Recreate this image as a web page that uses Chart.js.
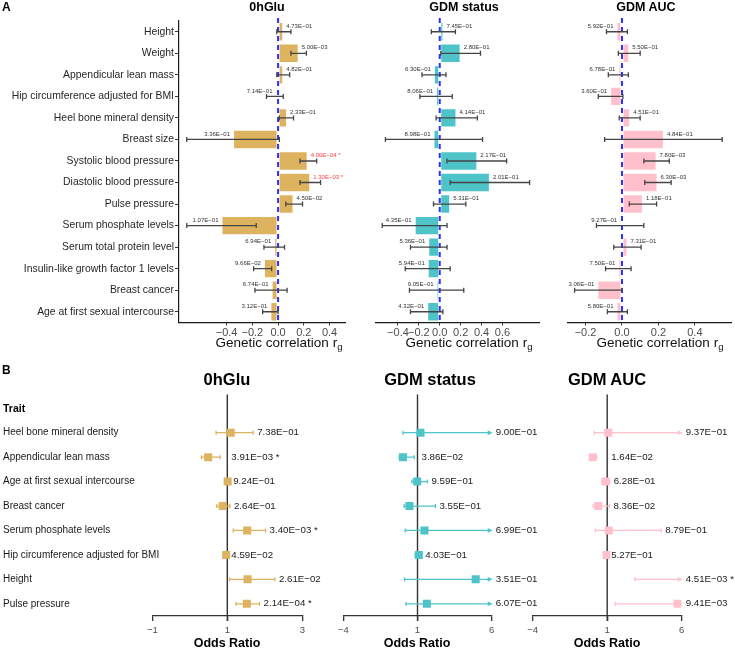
<!DOCTYPE html>
<html lang="en">
<head>
  <meta charset="UTF-8" />
  <title>Genetic correlation and Mendelian randomization</title>
  <script src="https://cdn.jsdelivr.net/npm/chart.js"></script>
  <style>
    body {
      margin: 0;
      background: #fff;
      font-family: 'Liberation Sans', Arial, sans-serif;
      color: #000;
    }
    #fig {
      position: relative;
      width: 735px;
      height: 649px;
      overflow: hidden;
    }
    canvas {
      position: absolute;
      left: 0;
    }
    .lab {
      position: absolute;
      transform: translateY(-50%);
      line-height: 1;
      font-weight: bold;
      white-space: nowrap;
    }
    .ctr {
      position: absolute;
      transform: translate(-50%, -50%);
      line-height: 1;
      white-space: nowrap;
    }
    .ttl { font-weight: bold; }
    .axt { font-size: 13.5px; color: #111; }
    .axt sub { font-size: 9.5px; vertical-align: -3px; }
  </style>
</head>
<body>
  <div id="fig">
    <canvas id="gA1" width="735" height="360" style="top:0"></canvas>
    <canvas id="gA2" width="735" height="360" style="top:0"></canvas>
    <canvas id="gA3" width="735" height="360" style="top:0"></canvas>
    <canvas id="gB1" width="735" height="289" style="top:360px"></canvas>
    <canvas id="gB2" width="735" height="289" style="top:360px"></canvas>
    <canvas id="gB3" width="735" height="289" style="top:360px"></canvas>

    <div class="lab" style="left:2px;top:7px;font-size:12px">A</div>
    <div class="ctr ttl" style="left:267px;top:7px;font-size:12.5px">0hGlu</div>
    <div class="ctr ttl" style="left:464px;top:7px;font-size:12.5px">GDM status</div>
    <div class="ctr ttl" style="left:646px;top:7px;font-size:12.5px">GDM AUC</div>
    <div class="ctr axt" style="left:279px;top:344px">Genetic correlation r<sub>g</sub></div>
    <div class="ctr axt" style="left:469px;top:344px">Genetic correlation r<sub>g</sub></div>
    <div class="ctr axt" style="left:660px;top:344px">Genetic correlation r<sub>g</sub></div>

    <div class="lab" style="left:2px;top:370px;font-size:12px">B</div>
    <div class="ctr ttl" style="left:227px;top:379px;font-size:16.5px">0hGlu</div>
    <div class="ctr ttl" style="left:430px;top:379px;font-size:16.5px">GDM status</div>
    <div class="ctr ttl" style="left:607px;top:379px;font-size:16.5px">GDM AUC</div>
    <div class="lab" style="left:3px;top:408px;font-size:10.5px">Trait</div>
    <div class="ctr ttl" style="left:227px;top:643px;font-size:12.5px">Odds Ratio</div>
    <div class="ctr ttl" style="left:417px;top:643px;font-size:12.5px">Odds Ratio</div>
    <div class="ctr ttl" style="left:607px;top:643px;font-size:12.5px">Odds Ratio</div>
  </div>

  <script>
    // ---- panel A: genetic correlation ----
    const traitsA = ["Height", "Weight", "Appendicular lean mass", "Hip circumference adjusted for BMI",
      "Heel bone mineral density", "Breast size", "Systolic blood pressure", "Diastolic blood pressure",
      "Pulse pressure", "Serum phosphate levels", "Serum total protein level",
      "Insulin-like growth factor 1 levels", "Breast cancer", "Age at first sexual intercourse"];

    const rgGlu = [0.04, 0.16, 0.04, -0.02, 0.07, -0.35, 0.23, 0.25, 0.12, -0.44, -0.03, -0.11, -0.05, -0.06];
    const loGlu = [-0.01, 0.10, -0.01, -0.09, 0.01, -0.71, 0.17, 0.17, 0.06, -0.71, -0.11, -0.19, -0.18, -0.12];
    const hiGlu = [0.10, 0.22, 0.09, 0.04, 0.12, 0.01, 0.30, 0.33, 0.19, -0.17, 0.05, -0.05, 0.07, 0.00];
    const pGlu = ["4.73E-01", "5.00E-03", "4.82E-01", "7.14E-01", "2.33E-01", "3.36E-01", "4.00E-04",
      "1.30E-03", "4.50E-02", "1.07E-01", "6.94E-01", "9.66E-02", "6.74E-01", "3.12E-01"];

    const rgStatus = [0.035, 0.20, -0.056, -0.035, 0.16, -0.06, 0.36, 0.48, 0.10, -0.24, -0.11, -0.115, -0.03, -0.12];
    const loStatus = [-0.08, 0.01, -0.17, -0.19, -0.035, -0.52, 0.07, 0.10, -0.06, -0.55, -0.28, -0.33, -0.29, -0.28];
    const hiStatus = [0.15, 0.39, 0.06, 0.12, 0.36, 0.41, 0.64, 0.86, 0.25, 0.07, 0.07, 0.10, 0.23, 0.03];
    const pStatus = ["7.45E-01", "2.80E-01", "6.30E-01", "8.06E-01", "4.14E-01", "8.98E-01", "2.17E-01",
      "2.01E-01", "5.31E-01", "4.35E-01", "5.36E-01", "5.94E-01", "9.05E-01", "4.32E-01"];

    const rgAuc = [-0.03, 0.04, -0.02, -0.065, 0.045, 0.23, 0.19, 0.195, 0.115, -0.01, 0.03, -0.02, -0.135, -0.03];
    const loAuc = [-0.085, -0.02, -0.075, -0.13, -0.015, -0.095, 0.12, 0.125, 0.04, -0.14, -0.045, -0.09, -0.26, -0.08];
    const hiAuc = [0.03, 0.10, 0.035, 0.005, 0.10, 0.55, 0.26, 0.27, 0.19, 0.12, 0.105, 0.05, 0.0, 0.03];
    const pAuc = ["5.92E-01", "5.50E-01", "6.78E-01", "3.60E-01", "4.51E-01", "4.84E-01", "7.80E-03",
      "6.30E-03", "1.18E-01", "9.27E-01", "7.31E-01", "7.50E-01", "3.06E-01", "5.80E-01"];

    const ticksGlu = [-0.4, -0.2, 0, 0.2, 0.4];
    const ticksStatus = [-0.4, -0.2, 0, 0.2, 0.4, 0.6];
    const ticksAuc = [-0.2, 0, 0.2, 0.4];

    // ---- panel B: Mendelian randomization (odds ratios) ----
    const traitsB = ["Heel bone mineral density", "Appendicular lean mass", "Age at first sexual intercourse",
      "Breast cancer", "Serum phosphate levels", "Hip circumference adjusted for BMI", "Height", "Pulse pressure"];

    const orGlu = [1.09, 0.49, 1.01, 0.88, 1.53, 0.97, 1.54, 1.52];
    const orLoGlu = [0.70, 0.31, 0.97, 0.72, 1.16, 0.94, 1.06, 1.23];
    const orHiGlu = [1.69, 0.81, 1.05, 1.07, 2.02, 1.00, 2.27, 1.86];
    const orPGlu = ["7.38E-01", "3.91E-03", "9.24E-01", "2.64E-01", "3.40E-03", "4.59E-02", "2.61E-02", "2.14E-04"];

    const orStatus = [1.20, 0.02, 0.98, 0.46, 1.47, 1.09, 4.92, 1.63];
    const orLoStatus = [0.02, -0.23, 0.62, 0.10, 0.17, 0.85, 0.13, 0.22];
    const orHiStatus = [9.0, 0.78, 1.67, 2.21, 9.5, 1.25, 12.0, 9.0];
    const orPStatus = ["9.00E-01", "3.86E-02", "9.59E-01", "3.55E-01", "6.99E-01", "4.03E-01", "3.51E-01", "6.07E-01"];

    const orAuc = [1.07, 0.03, 0.89, 0.40, 1.11, 0.95, 8.5, 5.72];
    const orLoAuc = [0.13, -0.14, 0.64, 0.06, 0.21, 0.90, 2.85, 1.54];
    const orHiAuc = [9.0, 0.30, 1.17, 1.15, 4.63, 1.00, 20.0, 11.0];
    const orPAuc = ["9.37E-01", "1.64E-02", "6.28E-01", "8.36E-02", "8.79E-01", "5.27E-01", "4.51E-03", "9.41E-03"];

    const ticksOrGlu = [-1, 1, 3];
    const ticksOrGdm = [-4, 1, 6];

    const GOLD = "#DDB35F";
    const TEAL = "#4EC4C9";
    const PINK = "#FFC0CB";
    const FONT = "'Liberation Sans', Arial, sans-serif";

    Chart.defaults.font.family = FONT;
    Chart.defaults.color = "#4d4d4d";

    const minus = s => String(s).replace(/-/g, "\u2212");

    // error bars, zero line and p-value labels for the correlation bars
    function barExtras(rg, lo, hi, p) {
      return {
        id: "barExtras",
        afterDatasetsDraw(chart) {
          const { ctx, chartArea, scales: { x, y } } = chart;
          const x0 = x.getPixelForValue(0);
          ctx.save();
          ctx.strokeStyle = "#2f2fff";
          ctx.lineWidth = 2;
          ctx.setLineDash([5, 4]);
          ctx.beginPath();
          ctx.moveTo(x0, chartArea.top - 3);
          ctx.lineTo(x0, chartArea.bottom);
          ctx.stroke();
          ctx.setLineDash([]);

          ctx.strokeStyle = "#454545";
          ctx.lineWidth = 1.3;
          lo.forEach((l, i) => {
            const yc = y.getPixelForValue(i);
            const a = x.getPixelForValue(l);
            const b = x.getPixelForValue(hi[i]);
            ctx.beginPath();
            ctx.moveTo(a, yc); ctx.lineTo(b, yc);
            ctx.moveTo(a, yc - 2.5); ctx.lineTo(a, yc + 2.5);
            ctx.moveTo(b, yc - 2.5); ctx.lineTo(b, yc + 2.5);
            ctx.stroke();
          });

          ctx.font = "6px " + FONT;
          ctx.textBaseline = "middle";
          p.forEach((s, i) => {
            const v = rg[i];
            const sig = parseFloat(s) < 0.05 / traitsA.length;
            ctx.fillStyle = sig ? "#ff4040" : "#333";
            ctx.textAlign = v >= 0 ? "left" : "right";
            const xp = x.getPixelForValue(v) + (v >= 0 ? 3 : -3);
            ctx.fillText(minus(s) + (sig ? " *" : ""), xp, y.getPixelForValue(i) - 5.5);
          });
          ctx.restore();
        }
      };
    }

    function barChart(id, rg, lo, hi, p, color, min, max, ticks, padL, padR, showY) {
      new Chart(document.getElementById(id), {
        type: "bar",
        data: {
          labels: traitsA,
          datasets: [{
            data: rg,
            backgroundColor: color,
            borderColor: "rgba(255,255,255,0.55)",
            borderWidth: 1,
            borderSkipped: false,
            barPercentage: 0.9,
            categoryPercentage: 1
          }]
        },
        options: {
          indexAxis: "y",
          responsive: false,
          animation: false,
          events: [],
          layout: { padding: { left: padL, right: padR, top: 21, bottom: 0 } },
          plugins: { legend: { display: false }, tooltip: { enabled: false } },
          scales: {
            x: {
              type: "linear",
              min: min,
              max: max,
              afterBuildTicks: s => { s.ticks = ticks.map(v => ({ value: v })); },
              afterFit: s => { s.height = 37.5; },
              grid: { display: true, drawOnChartArea: false, tickLength: 3, color: "#333" },
              border: { display: true, color: "#1a1a1a", width: 1.2 },
              ticks: {
                font: { size: 11 },
                color: "#4d4d4d",
                padding: 1,
                autoSkip: false,
                maxRotation: 0,
                callback: v => minus(v.toFixed(1))
              }
            },
            y: {
              display: showY,
              afterFit: s => { if (showY) s.width = 179; },
              grid: { display: true, drawOnChartArea: false, offset: false, tickLength: 4, color: "#333" },
              border: { display: true, color: "#1a1a1a", width: 1.2 },
              ticks: { font: { size: 10.4 }, color: "#262626", padding: 1, autoSkip: false }
            }
          }
        },
        plugins: [barExtras(rg, lo, hi, p)]
      });
    }

    barChart("gA1", rgGlu, loGlu, hiGlu, pGlu, GOLD, -0.77, 0.52, ticksGlu, 0, 390, true);
    barChart("gA2", rgStatus, loStatus, hiStatus, pStatus, TEAL, -0.61, 0.95, ticksStatus, 376, 196, false);
    barChart("gA3", rgAuc, loAuc, hiAuc, pAuc, PINK, -0.30, 0.60, ticksAuc, 567.3, 3.7, false);

    // confidence intervals, reference line, trait names and p-value labels for the forest plots
    function forestExtras(lo, hi, p, color, showY) {
      return {
        id: "forestExtras",
        beforeDatasetsDraw(chart) {
          const { ctx, chartArea, scales: { x, y } } = chart;
          const x1 = x.getPixelForValue(1);
          ctx.save();
          ctx.strokeStyle = "#333";
          ctx.lineWidth = 1.4;
          ctx.beginPath();
          ctx.moveTo(x1, chartArea.top - 26);
          ctx.lineTo(x1, chartArea.bottom + 5);
          ctx.stroke();

          ctx.strokeStyle = color;
          ctx.fillStyle = color;
          ctx.lineWidth = 1.3;
          lo.forEach((l, i) => {
            const yc = y.getPixelForValue(i);
            const a = x.getPixelForValue(Math.max(l, x.min));
            const over = hi[i] > x.max;
            const b = x.getPixelForValue(Math.min(hi[i], x.max));
            ctx.beginPath();
            ctx.moveTo(a, yc); ctx.lineTo(b, yc);
            ctx.moveTo(a, yc - 2); ctx.lineTo(a, yc + 2);
            if (!over) { ctx.moveTo(b, yc - 2); ctx.lineTo(b, yc + 2); }
            ctx.stroke();
            if (over) {
              ctx.beginPath();
              ctx.moveTo(b + 0.5, yc);
              ctx.lineTo(b - 4, yc - 2.5);
              ctx.lineTo(b - 4, yc + 2.5);
              ctx.closePath();
              ctx.fill();
            }
          });
          ctx.restore();
        },
        afterDatasetsDraw(chart) {
          const { ctx, scales: { x, y } } = chart;
          ctx.save();
          ctx.fillStyle = "#1a1a1a";
          ctx.textAlign = "left";
          ctx.textBaseline = "middle";
          if (showY) {
            ctx.font = "10px " + FONT;
            traitsB.forEach((t, i) => ctx.fillText(t, 3, y.getPixelForValue(i)));
          }
          ctx.font = "9.7px " + FONT;
          p.forEach((s, i) => {
            const sig = parseFloat(s) < 0.05 / traitsB.length;
            const xp = x.getPixelForValue(Math.min(Math.max(hi[i], 1), x.max)) + 4;
            ctx.fillText(minus(s) + (sig ? " *" : ""), xp, y.getPixelForValue(i));
          });
          ctx.restore();
        }
      };
    }

    function forestChart(id, or, lo, hi, p, color, min, max, ticks, padL, padR, showY) {
      new Chart(document.getElementById(id), {
        type: "scatter",
        data: {
          datasets: [{
            data: or.map((v, i) => ({ x: v, y: traitsB[i] })),
            pointStyle: "rect",
            pointRadius: 5.7,
            backgroundColor: color,
            borderColor: color,
            borderWidth: 0,
            clip: 0
          }]
        },
        options: {
          responsive: false,
          animation: false,
          events: [],
          layout: { padding: { left: padL, right: padR, top: 60.5, bottom: 0 } },
          plugins: { legend: { display: false }, tooltip: { enabled: false } },
          scales: {
            x: {
              type: "linear",
              min: min,
              max: max,
              afterBuildTicks: s => { s.ticks = ticks.map(v => ({ value: v })); },
              afterFit: s => { s.height = 33; },
              grid: { display: true, drawOnChartArea: false, tickLength: 5, color: "#333", lineWidth: 1.3 },
              border: { display: true, color: "#333", width: 1.3 },
              ticks: {
                font: { size: 9.5 },
                color: "#4d4d4d",
                padding: 4,
                autoSkip: false,
                maxRotation: 0,
                callback: v => minus(v)
              }
            },
            y: {
              type: "category",
              labels: traitsB,
              offset: true,
              display: false
            }
          }
        },
        plugins: [forestExtras(lo, hi, p, color, showY)]
      });
    }

    forestChart("gB1", orGlu, orLoGlu, orHiGlu, orPGlu, GOLD, -1, 3, ticksOrGlu, 152.3, 432.7, true);
    forestChart("gB2", orStatus, orLoStatus, orHiStatus, orPStatus, TEAL, -4, 6, ticksOrGdm, 343.3, 243.3, false);
    forestChart("gB3", orAuc, orLoAuc, orHiAuc, orPAuc, PINK, -4, 6, ticksOrGdm, 532.7, 53.3, false);
  </script>
</body>
</html>
